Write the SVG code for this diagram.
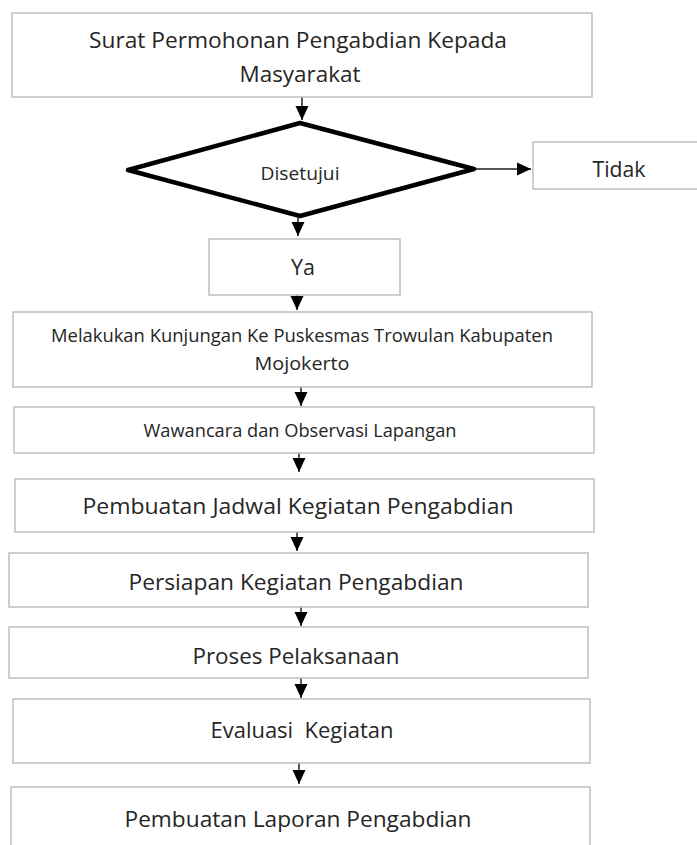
<svg xmlns="http://www.w3.org/2000/svg" width="697" height="845" viewBox="0 0 697 845">
<style>
.box{fill:#fff;stroke:#bfbfbf;stroke-width:1.5}
.t{font-family:"Open Sans","Liberation Sans",sans-serif;fill:#262626;text-anchor:middle}
.c{stroke:#000;stroke-width:1.3;fill:none;marker-end:url(#ah)}
</style>
<defs>
<marker id="ah" markerUnits="userSpaceOnUse" markerWidth="15" markerHeight="15" viewBox="0 0 15 15" refX="14" refY="7.5" orient="auto">
<path d="M0,1 L14,7.5 L0,14 Z" fill="#000"/>
</marker>
</defs>
<rect width="697" height="845" fill="#fff"/>
<g id="connectors">
<line class="c" x1="302" y1="97" x2="302" y2="120"/>
<line class="c" x1="476" y1="169" x2="531" y2="169" style="stroke:#555;stroke-width:2"/>
<line class="c" x1="298" y1="218" x2="298" y2="236"/>
<line class="c" x1="297" y1="295" x2="297" y2="310"/>
<line class="c" x1="301" y1="387" x2="301" y2="406"/>
<line class="c" x1="299" y1="453" x2="299" y2="472"/>
<line class="c" x1="297" y1="532" x2="297" y2="551"/>
<line class="c" x1="301" y1="607" x2="301" y2="626"/>
<line class="c" x1="301" y1="678" x2="301" y2="698"/>
<line class="c" x1="299" y1="763" x2="299" y2="784"/>
</g>
<g id="n1"><rect class="box" x="12" y="13" width="580" height="84"/>
<text class="t" x="298" y="48" font-size="21" textLength="418" lengthAdjust="spacingAndGlyphs">Surat Permohonan Pengabdian Kepada</text>
<text class="t" x="300" y="82" font-size="21" textLength="121" lengthAdjust="spacingAndGlyphs">Masyarakat</text></g>
<g id="n2"><polygon points="300,123 474,169 300,216 128,170" fill="#fff" stroke="#000" stroke-width="4.5" stroke-linejoin="round"/>
<text class="t" x="300" y="180" font-size="19" textLength="79" lengthAdjust="spacingAndGlyphs">Disetujui</text></g>
<g id="n3"><rect class="box" x="533" y="142" width="170" height="47"/>
<text class="t" x="619" y="177" font-size="21" textLength="53" lengthAdjust="spacingAndGlyphs">Tidak</text></g>
<g id="n4"><rect class="box" x="209" y="239" width="191" height="56"/>
<text class="t" x="303" y="275" font-size="22" textLength="24" lengthAdjust="spacingAndGlyphs">Ya</text></g>
<g id="n5"><rect class="box" x="13" y="312" width="579" height="75"/>
<text class="t" x="302" y="342" font-size="19" textLength="502" lengthAdjust="spacingAndGlyphs">Melakukan Kunjungan Ke Puskesmas Trowulan Kabupaten</text>
<text class="t" x="302" y="370" font-size="19" textLength="95" lengthAdjust="spacingAndGlyphs">Mojokerto</text></g>
<g id="n6"><rect class="box" x="14" y="407" width="580" height="46"/>
<text class="t" x="300" y="437" font-size="19" textLength="313" lengthAdjust="spacingAndGlyphs">Wawancara dan Observasi Lapangan</text></g>
<g id="n7"><rect class="box" x="15" y="479" width="579" height="53"/>
<text class="t" x="298" y="514" font-size="22" textLength="431" lengthAdjust="spacingAndGlyphs">Pembuatan Jadwal Kegiatan Pengabdian</text></g>
<g id="n8"><rect class="box" x="9" y="553" width="579" height="54"/>
<text class="t" x="296" y="590" font-size="21" textLength="335" lengthAdjust="spacingAndGlyphs">Persiapan Kegiatan Pengabdian</text></g>
<g id="n9"><rect class="box" x="9" y="627" width="579" height="51"/>
<text class="t" x="296" y="664" font-size="21" textLength="207" lengthAdjust="spacingAndGlyphs">Proses Pelaksanaan</text></g>
<g id="n10"><rect class="box" x="13" y="699" width="577" height="64"/>
<text class="t" x="302" y="738" font-size="21" textLength="183" lengthAdjust="spacingAndGlyphs" xml:space="preserve">Evaluasi  Kegiatan</text></g>
<g id="n11"><rect class="box" x="11" y="787" width="579" height="70"/>
<text class="t" x="298" y="827" font-size="21" textLength="347" lengthAdjust="spacingAndGlyphs">Pembuatan Laporan Pengabdian</text></g>
</svg>
